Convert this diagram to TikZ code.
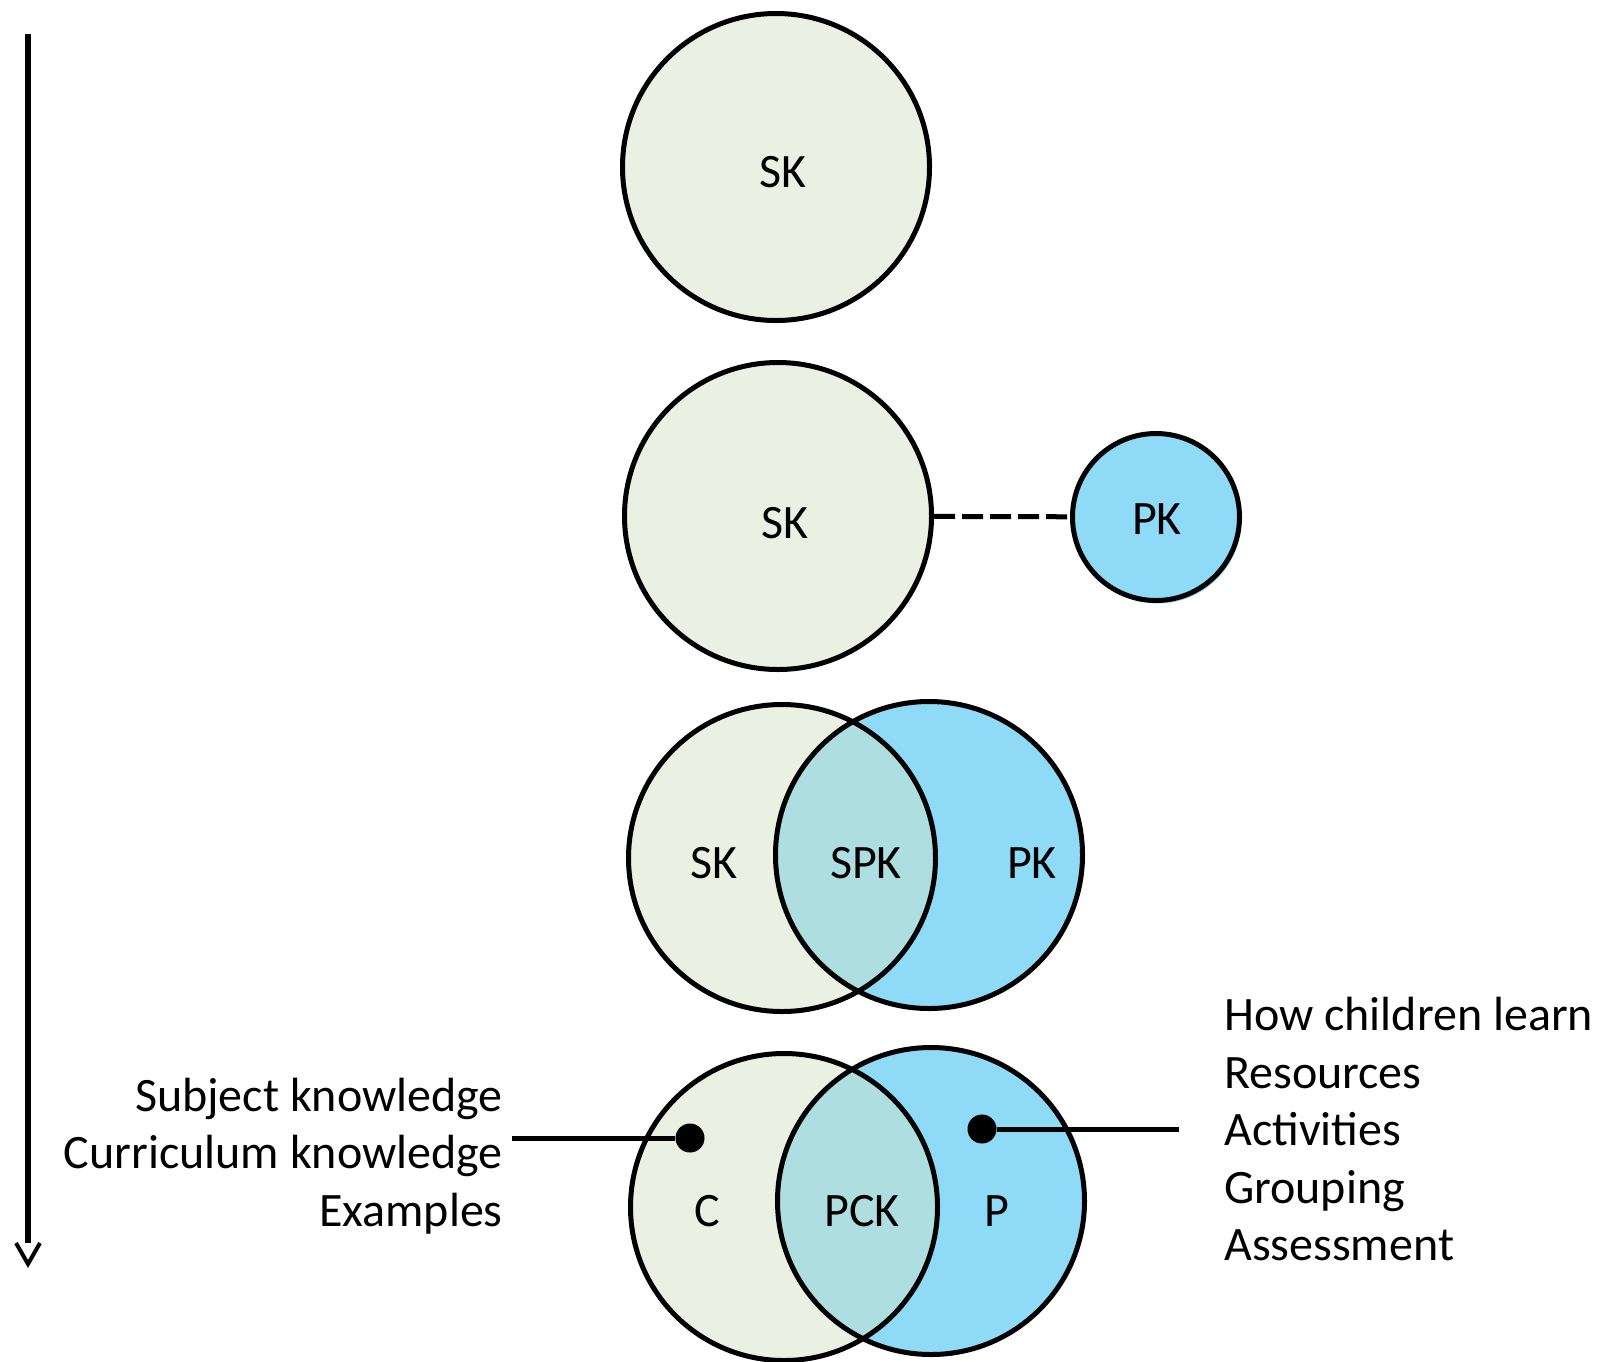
\documentclass[tikz,border=0pt]{standalone}
\usepackage{fontspec}
\setmainfont{Carlito}
\usepackage{tikz}
\usetikzlibrary{positioning,arrows.meta}
\definecolor{skgreen}{HTML}{EBF1E2}
\definecolor{pkblue}{HTML}{8FDBF7}
\definecolor{overlap}{HTML}{AEDEDF}
\tikzset{
  knode/.style={
    circle, inner sep=0pt, minimum size=307pt
  },
  sknode/.style={knode, fill=skgreen},
  pknode/.style={knode, fill=pkblue},
  smallnode/.style={circle, inner sep=0pt, minimum size=167pt},
  ring/.style={draw=black, line width=5pt},
  klabel/.style={font=\fontsize{48pt}{57.5pt}\selectfont, inner sep=0pt},
  linkline/.style={draw=black, line width=5pt, dash pattern=on 21pt off 7pt},
  leader/.style={draw=black, line width=5pt},
  dotnode/.style={circle, fill=black, inner sep=0pt, minimum size=29pt},
  timeline/.style={draw=black, line width=5.5pt},
  timetip/.style={draw=black, line width=4pt},
}

\begin{document}
\begin{tikzpicture}[x=1pt, y=-1pt]
  \useasboundingbox (0,0) rectangle (1605,1361);

  \coordinate (t0) at (28,34);
  \coordinate (t1) at (28,1264);
  \draw[timeline, shorten >=21pt] (t0) -- (t1);
  \draw[timetip] ([xshift=-12pt,yshift=21pt]t1) -- (t1) -- ([xshift=12pt,yshift=21pt]t1);

  \node (sk1) [sknode, ring] at (776,167) {};
  \node (sk1l) [klabel] at (783,172) {SK};

  \node (sk2) [sknode, ring] at (778,516) {};
  \node (pk2s) [smallnode, fill=pkblue] at (1158,520) {};
  \node (pk2) [smallnode, fill=pkblue, ring] at (1156,517) {};
  \draw[linkline] (sk2) -- (pk2);
  \node (sk2l) [klabel] at (785,523) {SK};
  \node (pk2l) [klabel] at (1157,519) {PK};

  \node (sk3) [sknode] at (782,858) {};
  \node (pk3) [pknode] at (929,855) {};
  \begin{scope}
    \clip (sk3.center) circle [radius=153.5pt];
    \fill[overlap] (pk3.center) circle [radius=153.5pt];
  \end{scope}
  \draw[ring] (sk3.center) circle [radius=153.5pt] (pk3.center) circle [radius=153.5pt];
  \node (sk3l) [klabel] at (714,863) {SK};
  \node (spk3l) [klabel] at (866,863) {SPK};
  \node (pk3l) [klabel] at (1032,863) {PK};

  \node (c4) [sknode] at (784,1207) {};
  \node (p4) [pknode] at (931,1201) {};
  \begin{scope}
    \clip (c4.center) circle [radius=153.5pt];
    \fill[overlap] (p4.center) circle [radius=153.5pt];
  \end{scope}
  \draw[ring] (c4.center) circle [radius=153.5pt] (p4.center) circle [radius=153.5pt];
  \node (c4l) [klabel] at (707,1211) {C};
  \node (pck4l) [klabel] at (862,1211) {PCK};
  \node (p4l) [klabel] at (997,1211) {P};

  \node (clist) [klabel, align=right, anchor=east] at (503,1156)
    {Subject knowledge\\Curriculum knowledge\\Examples};
  \node (plist) [klabel, align=left, anchor=west] at (1224,1129)
    {How children learn\\Resources\\Activities\\Grouping\\Assessment};

  \node (cdot) [dotnode] at (690,1138) {};
  \coordinate (cend) at (512,1138);
  \draw[leader] (cend) -- (cdot);
  \node (pdot) [dotnode] at (982,1129) {};
  \coordinate (pend) at (1179,1129);
  \draw[leader] (pdot) -- (pend);
\end{tikzpicture}
\end{document}
